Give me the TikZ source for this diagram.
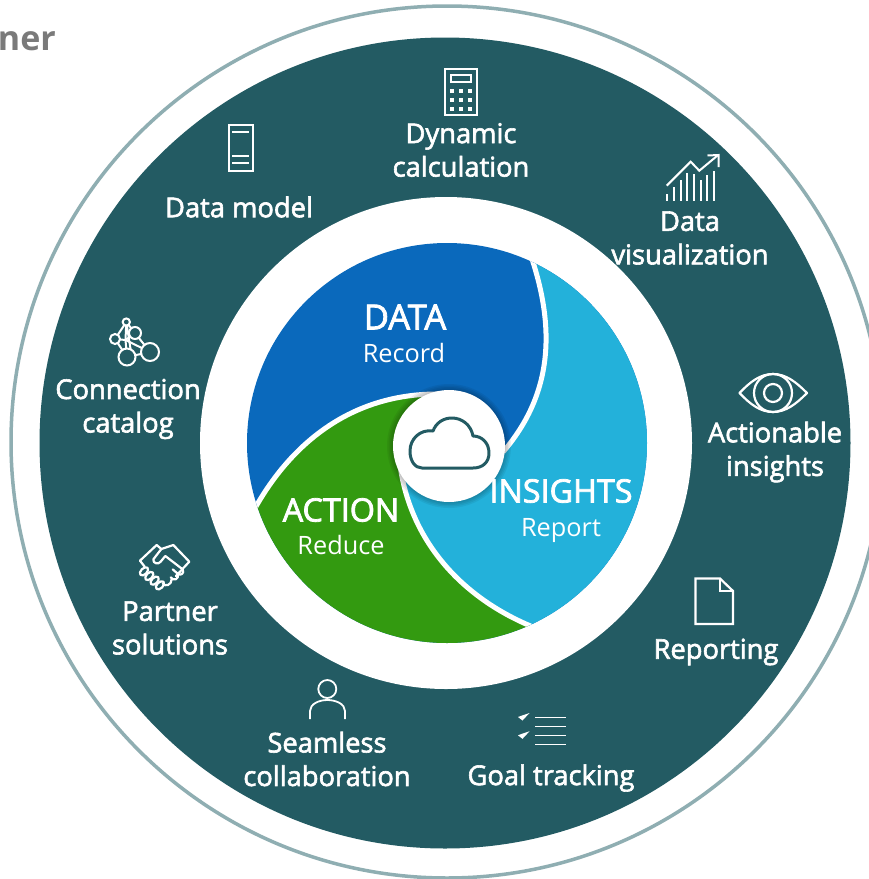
\documentclass[tikz,border=0pt]{standalone}
\usepackage{fontspec}
\setmainfont{Open Sans}
\newfontfamily\lab[FakeBold=2.2]{Open Sans}
\newfontfamily\labb[FakeBold=2.4]{Open Sans}
\usetikzlibrary{calc}
\definecolor{teal}{HTML}{235B63}
\definecolor{ringc}{HTML}{8FAEB2}
\definecolor{bluec}{HTML}{0A69BC}
\definecolor{skyc}{HTML}{23B1DA}
\definecolor{greenc}{HTML}{339A10}
\definecolor{greyc}{HTML}{7A7A7A}
\tikzset{
  lbl/.style={text=white,align=center,inner sep=0pt,font=\lab\fontsize{27.3}{33.5}\selectfont},
  big/.style={text=white,align=center,inner sep=0pt,font=\labb\fontsize{32.3}{34}\selectfont},
  small/.style={text=white,align=center,inner sep=0pt,font=\fontsize{25.3}{30}\selectfont},
  ico/.style={draw=white,line width=2.2pt,line join=miter},
  icot/.style={draw=white,line width=1.4pt},
  seam/.style={draw=white,line width=5pt}
}
\begin{document}
\begin{tikzpicture}[x=1pt,y=-1pt]
\useasboundingbox (0,0) rectangle (869,879);
\fill[white] (0,0) rectangle (869,879);
\node[anchor=base east,inner sep=0pt,text=greyc,font=\bfseries\fontsize{34}{34}\selectfont] (title) at (56,50) {ner};
% discs
\draw[ringc,line width=3.5pt] (447,442) circle[radius=436];
\fill[teal] (445,443) circle[radius=405.5];
\fill[white] (446,443) circle[radius=246];
% blades
\begin{scope}
\clip (447,443) circle[radius=200];
\fill[bluec] (447,443) circle[radius=201];
\fill[skyc] (531,256) .. controls (556,330) and (552,395) .. (503,452) -- (398,440) .. controls (400,530) and (455,595) .. (533,627) -- (700,650) -- (700,200) -- cycle;
\fill[greenc] (254,510) .. controls (290,445) and (350,393) .. (440,394) -- (398,440) .. controls (400,530) and (455,595) .. (533,627) -- (500,700) -- (200,700) -- (200,520) -- cycle;
\draw[seam] (531,256) .. controls (556,330) and (552,395) .. (503,452);
\draw[seam] (398,440) .. controls (400,530) and (455,595) .. (533,627);
\draw[seam] (254,510) .. controls (290,445) and (350,393) .. (440,394);
\end{scope}
% hub
\foreach \r in {62,60.5,59,57.5}{\fill[black,opacity=0.06] (449,446) circle[radius=\r];}
\fill[white] (449,446) circle[radius=56];
\draw[teal,line width=3pt,line join=round] (422,468) -- (473,468) .. controls (483,468) and (489,462) .. (489,453) .. controls (489,443) and (482,436) .. (473,436) .. controls (471,425) and (462,418) .. (452,418) .. controls (443,418) and (436,423) .. (433,431) .. controls (420,429) and (410,439) .. (410,451) .. controls (410,461) and (415,468) .. (422,468) -- cycle;
% centre labels
\node[big,font=\labb\fontsize{34.5}{34}\selectfont] (data) at (405,317) {DATA};
\node[small] (record) at (404,353) {Record};
\node[big] (insights) at (561,491) {INSIGHTS};
\node[small] (report) at (561,530) {Report};
\node[big] (action) at (341,510) {ACTION};
\node[small] (reduce) at (341,545) {Reduce};
% outer labels
\node[lbl] (dyn) at (461,150) {Dynamic\\calculation};
\node[lbl] (model) at (239,207) {Data model};
\node[lbl] (vis) at (690,238) {Data\\visualization};
\node[lbl] (conn) at (128,409) {Connection\\catalog};
\node[lbl] (act) at (775,452) {Actionable\\insights};
\node[lbl] (part) at (170,628) {Partner\\solutions};
\node[lbl] (rep) at (716,652) {Reporting};
\node[lbl] (seam) at (327,759) {Seamless\\collaboration};
\node[lbl] (goal) at (551,778) {Goal tracking};
% calculator
\draw[ico] (445,69) rectangle (477,115);
\draw[ico] (451,75) rectangle (471,82);
\foreach \x in {452,461,470}\foreach \y in {91,100,109}{\fill[white] (\x-2,\y-2) rectangle (\x+2,\y+2);}
% data model
\draw[ico] (229,125) rectangle (253,171);
\draw[ico] (232,132) -- (249,132) (232,156) -- (249,156) (232,163) -- (249,163);
% chart
\foreach \x/\t in {666.7/194,673.7/187,680.7/180,687.3/173.3,693.7/174,700.7/180,707.3/175,714/170.7}{\draw[white,line width=2pt] (\x,200.5) -- (\x,\t);}
\draw[white,line width=2pt] (666.7,185.7) -- (690.7,161.7) -- (699.3,170.7) -- (717.3,155.7);
\draw[white,line width=2pt] (707.5,155.5) -- (718.5,155) -- (718.5,167);
% connection
\foreach \x/\y in {126.3/322,115/339,135/333,127/357,150/352}{
  \draw[white,line width=2pt] (125.5,340) -- (\x,\y);}
\draw[white,line width=2pt] (126.3,322) -- (115,339) (126.3,322) -- (135,333) (126.3,322) -- (131,352) (135,333) -- (150,352) (115,339) -- (127,357) (127,357) -- (150,352);
\foreach \x/\y/\r in {126.3/322/3.6,115/339/5,135/333/6,127/357/8.5,150/352/9}{
  \fill[teal] (\x,\y) circle[radius=\r];
  \draw[white,line width=2pt] (\x,\y) circle[radius=\r];}
% eye
\draw[ico,line join=round] (739.5,393) .. controls (750,382) and (760,374) .. (773,374) .. controls (786,374) and (796,382) .. (807,393) .. controls (796,404) and (786,412) .. (773,412) .. controls (760,412) and (750,404) .. (739.5,393) -- cycle;
\draw[ico] (773,393) circle[radius=19];
\draw[ico] (773,393) circle[radius=9];
% document
\draw[ico] (695.5,578.5) -- (720,578.5) -- (733,591) -- (733,624) -- (695.5,624) -- cycle;
\draw[ico] (720,578.5) -- (720,591) -- (733,591);
% handshake
\begin{scope}[shift={(120,530)},x=0.3333pt,y=-0.3333pt,line join=round,line cap=round]
\draw[white,line width=2.2pt] (60,92) -- (110,45) -- (124,57) -- (160,45) -- (208,95) -- (168,138);
\draw[white,line width=2.2pt] (124,57) -- (100,88) .. controls (98,100) and (115,105) .. (122,95) -- (136,78) -- (188,118) .. controls (195,130) and (180,140) .. (172,130) -- (158,118);
\draw[white,line width=2.2pt] (172,130) .. controls (180,148) and (160,155) .. (152,142) (155,148) .. controls (155,165) and (135,172) .. (128,160);
\draw[white,line width=2.2pt] (60,92) -- (74,110);
\foreach \x/\y in {72/124,88/138,104/152,120/166}{\draw[white,line width=2.2pt,rotate around={45:(\x,\y)}] (\x,\y) ellipse[x radius=15,y radius=9];}
\end{scope}
% person
\draw[ico,line width=1.8pt] (327.3,689) circle[radius=9];
\draw[ico,line width=1.8pt] (310,719) -- (310,711) .. controls (310,704) and (319,700) .. (327.3,700) .. controls (336,700) and (345,704) .. (345,711) -- (345,719);
% goal
\foreach \y in {717.7,726.7,735.7,744.7}{\draw[icot] (535,\y) -- (566,\y);}
\foreach \y in {0,18.3}{
  \fill[white] (518,717+\y) -- (522,715.5+\y) -- (529.5,713+\y) -- (522.5,720.5+\y) -- cycle;}
\end{tikzpicture}
\end{document}
